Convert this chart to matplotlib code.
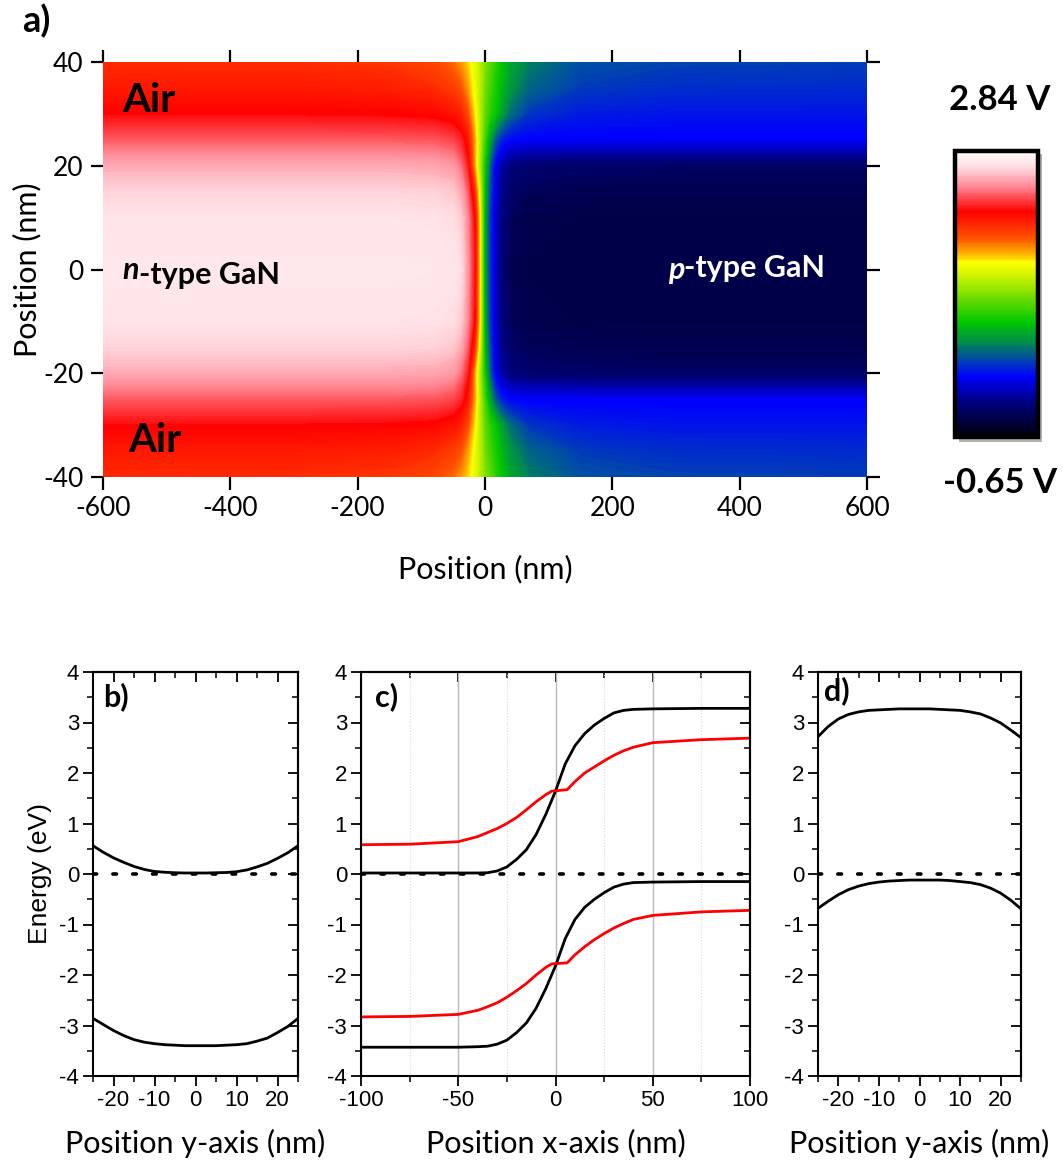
import numpy as np
import matplotlib
matplotlib.use('Agg')
import matplotlib.pyplot as plt
from matplotlib.colors import LinearSegmentedColormap
from matplotlib.ticker import MultipleLocator
from matplotlib.patches import Rectangle

plt.rcParams['axes.unicode_minus'] = False

W, H = 1063, 1167
CAL = ['Lato', 'DejaVu Sans']
ARI = ['Liberation Sans', 'DejaVu Sans']

# ---------------- panel a: potential map (V)
vmin, vmax = -0.65, 2.84
map_x = [-600, -300, -150, -80, -50, -38, -27, -16, -8, 0, 8, 16, 25, 40, 70, 150, 300, 600]
map_y_half = [0, 10, 15, 20, 25, 30, 35, 40]
pot_y0  = [2.72, 2.72, 2.72, 2.71, 2.69, 2.66, 2.45, 2.11, 1.48, 0.60, 0.20, -0.05, -0.25, -0.38, -0.42, -0.43, -0.43, -0.43]
pot_y10 = [2.68, 2.68, 2.68, 2.67, 2.65, 2.60, 2.40, 2.08, 1.46, 0.62, 0.22, -0.03, -0.22, -0.35, -0.40, -0.42, -0.42, -0.42]
pot_y15 = [2.62, 2.62, 2.62, 2.61, 2.58, 2.50, 2.30, 1.90, 1.35, 0.68, 0.28, 0.00, -0.18, -0.31, -0.36, -0.38, -0.39, -0.39]
pot_y20 = [2.50, 2.50, 2.50, 2.49, 2.45, 2.35, 2.15, 1.60, 1.20, 0.75, 0.35, 0.05, -0.12, -0.25, -0.30, -0.32, -0.33, -0.33]
pot_y25 = [2.30, 2.30, 2.30, 2.29, 2.25, 2.18, 2.02, 1.60, 1.25, 0.90, 0.60, 0.35, 0.18, 0.09, 0.07, 0.07, 0.07, 0.07]
pot_y30 = [2.11, 2.11, 2.10, 2.08, 2.03, 1.97, 1.80, 1.50, 1.25, 1.00, 0.85, 0.75, 0.60, 0.40, 0.24, 0.16, 0.14, 0.14]
pot_y35 = [2.00, 2.00, 1.98, 1.93, 1.85, 1.78, 1.62, 1.42, 1.25, 1.05, 0.92, 0.82, 0.70, 0.54, 0.38, 0.26, 0.22, 0.21]
pot_y40 = [1.93, 1.92, 1.89, 1.82, 1.72, 1.64, 1.53, 1.40, 1.25, 1.10, 0.98, 0.87, 0.75, 0.60, 0.46, 0.31, 0.28, 0.27]

# colour bar stops (fraction from bottom, rgb)
cbar_pos = [0.0, 0.12, 0.21, 0.27, 0.33, 0.40, 0.48, 0.55, 0.61, 0.65, 0.70, 0.79, 0.88, 0.95, 1.0]
cbar_rgb = [(0, 0, 0.04), (0, 0, 0.5), (0, 0, 1), (0, 0.28, 0.67), (0, 0.55, 0.3), (0, 0.78, 0),
            (0.4, 0.86, 0), (0.75, 0.94, 0), (1, 1, 0), (1, 0.63, 0), (1, 0.3, 0), (1, 0, 0),
            (1, 0.55, 0.6), (1, 0.88, 0.9), (1, 0.98, 0.98)]

# ---------------- panels b, d: bands across y (eV)
yb = [-25, -22.5, -20, -17.5, -15, -12.5, -10, -7.5, -5, -2.5, 0, 2.5, 5, 7.5, 10, 12.5, 15, 17.5, 20, 22.5, 25]
b_cb = [0.56, 0.43, 0.32, 0.23, 0.15, 0.09, 0.05, 0.035, 0.025, 0.02, 0.02, 0.02, 0.025, 0.03, 0.045, 0.08, 0.14, 0.21, 0.31, 0.42, 0.56]
b_vb = [-2.86, -2.98, -3.10, -3.20, -3.28, -3.33, -3.36, -3.38, -3.39, -3.40, -3.40, -3.40, -3.40, -3.39, -3.38, -3.36, -3.31, -3.25, -3.14, -3.02, -2.86]
d_cb = [2.72, 2.92, 3.07, 3.16, 3.21, 3.24, 3.25, 3.26, 3.27, 3.27, 3.27, 3.27, 3.26, 3.25, 3.24, 3.21, 3.17, 3.09, 2.99, 2.85, 2.70]
d_vb = [-0.68, -0.54, -0.41, -0.31, -0.24, -0.19, -0.16, -0.14, -0.13, -0.12, -0.12, -0.12, -0.12, -0.13, -0.15, -0.17, -0.21, -0.28, -0.38, -0.52, -0.69]

# ---------------- panel c: bands across x (eV)
xc = [-100, -75, -50, -40, -35, -30, -25, -20, -15, -10, -5, 0, 5, 10, 15, 20, 25, 30, 35, 40, 50, 75, 100]
c_cb = [0.02, 0.02, 0.02, 0.02, 0.025, 0.06, 0.14, 0.29, 0.48, 0.78, 1.18, 1.64, 2.18, 2.54, 2.78, 2.95, 3.08, 3.19, 3.24, 3.26, 3.27, 3.28, 3.28]
c_vb = [-3.43, -3.43, -3.43, -3.42, -3.41, -3.37, -3.29, -3.14, -2.95, -2.66, -2.27, -1.82, -1.28, -0.90, -0.66, -0.50, -0.37, -0.26, -0.20, -0.17, -0.16, -0.15, -0.15]
xc_red = [-100, -75, -50, -40, -35, -30, -25, -20, -15, -10, -5, -2, 6, 10, 15, 20, 25, 30, 35, 40, 50, 75, 100]
c_cb_red = [0.58, 0.59, 0.64, 0.74, 0.82, 0.90, 1.00, 1.12, 1.27, 1.43, 1.57, 1.64, 1.67, 1.83, 2.00, 2.12, 2.24, 2.35, 2.44, 2.51, 2.60, 2.66, 2.69]
c_vb_red = [-2.83, -2.82, -2.78, -2.70, -2.63, -2.55, -2.44, -2.31, -2.17, -2.00, -1.85, -1.78, -1.76, -1.60, -1.44, -1.30, -1.18, -1.07, -0.98, -0.90, -0.82, -0.75, -0.72]


def box(x0, y0, x1, y1):
    # pixel box (top-left origin) -> figure fraction rect
    return [x0 / W, 1 - y1 / H, (x1 - x0) / W, (y1 - y0) / H]


fig = plt.figure(figsize=(W / 100, H / 100), dpi=100)

# ================= panel a
cmap = LinearSegmentedColormap.from_list('gan', list(zip(cbar_pos, cbar_rgb)))
rows = [pot_y0, pot_y10, pot_y15, pot_y20, pot_y25, pot_y30, pot_y35, pot_y40]
Z = np.array(rows[:0:-1] + rows)
Yn = [-v for v in map_y_half[:0:-1]] + map_y_half

axa = fig.add_axes(box(103, 62, 867, 477))
cs = axa.contourf(map_x, Yn, Z, levels=np.linspace(vmin, vmax, 240),
                  cmap=cmap, vmin=vmin, vmax=vmax, antialiased=False)
axa.set_xlim(-600, 600)
axa.set_ylim(-40, 40)
for s in axa.spines.values():
    s.set_visible(False)
axa.set_xticks([-600, -400, -200, 0, 200, 400, 600])
axa.set_yticks([-40, -20, 0, 20, 40])
axa.tick_params(direction='out', length=9, width=1.6, top=True, right=True, pad=5)
for lab in axa.get_xticklabels() + axa.get_yticklabels():
    lab.set_family(CAL)
    lab.set_fontsize(19)
axa.set_xlabel('Position (nm)', family=CAL, fontsize=22, labelpad=24)
axa.set_ylabel('Position (nm)', family=CAL, fontsize=22, labelpad=1)

axa.text(-570, 32.5, 'Air', family=CAL, fontsize=29, fontweight='bold', va='center')
axa.text(-560, -33, 'Air', family=CAL, fontsize=29, fontweight='bold', va='center')
t_n = axa.text(-570, -1.8, 'n', family=CAL, fontsize=22, fontweight='bold', style='italic', va='baseline')
axa.annotate('-type GaN', xy=(1, 0), xycoords=t_n, family=CAL, fontsize=22, fontweight='bold', va='baseline')
t_p = axa.text(287, -1.8, 'p', family=CAL, fontsize=22, fontweight='bold', style='italic', va='baseline', color='white')
axa.annotate('-type GaN', xy=(1, 0.24), xycoords=t_p, family=CAL, fontsize=22, fontweight='bold', va='baseline', color='white')

fig.text(22 / W, 1 - 21 / H, 'a)', family=CAL, fontsize=26, fontweight='bold', va='center')

# colour bar
shadow = Rectangle((959 / W, 1 - 442 / H), 83 / W, 288 / H, transform=fig.transFigure,
                   facecolor='0.7', edgecolor='none', zorder=-5)
fig.patches.append(shadow)
cax = fig.add_axes(box(955, 151, 1038, 437))
cax.set_zorder(5)
cb = fig.colorbar(cs, cax=cax, ticks=[])
cb.outline.set_linewidth(3.2)
cb.outline.set_edgecolor('black')
fig.text(1000 / W, 1 - 100 / H, '%.2f V' % vmax, family=CAL, fontsize=25, fontweight='bold', ha='center', va='center')
fig.text(1000 / W, 1 - 483 / H, '%.2f V' % vmin, family=CAL, fontsize=25, fontweight='bold', ha='center', va='center')

# ================= panels b, c, d
def band_axes(rect, xlim, xmaj, xmin_, label, tag, tagpos):
    ax = fig.add_axes(rect)
    ax.set_xlim(*xlim)
    ax.set_ylim(-4, 4)
    ax.xaxis.set_major_locator(MultipleLocator(xmaj))
    ax.xaxis.set_minor_locator(MultipleLocator(xmin_))
    ax.yaxis.set_major_locator(MultipleLocator(1))
    ax.yaxis.set_minor_locator(MultipleLocator(0.5))
    for s in ax.spines.values():
        s.set_linewidth(1.5)
    ax.tick_params(which='major', direction='out', length=7, width=1.3, labelsize=16, pad=3)
    ax.tick_params(which='minor', direction='out', length=4, width=1.1)
    for lab in ax.get_xticklabels() + ax.get_yticklabels():
        lab.set_family(ARI)
    sx = ax.secondary_xaxis('top')
    sy = ax.secondary_yaxis('right')
    for sa, axis, mj, mn in ((sx, sx.xaxis, xmaj, xmin_), (sy, sy.yaxis, 1, 0.5)):
        axis.set_major_locator(MultipleLocator(mj))
        axis.set_minor_locator(MultipleLocator(mn))
        sa.tick_params(which='major', direction='in', length=7, width=1.3, labelsize=0)
        sa.tick_params(which='minor', direction='in', length=4, width=1.1)
        sa.tick_params(labeltop=False, labelright=False)
        for s in sa.spines.values():
            s.set_linewidth(1.5)
    ax.set_xlabel(label, family=CAL, fontsize=22, labelpad=13)
    ax.axhline(0, color='black', lw=2.6, linestyle=(0, (1, 4.5)), dash_capstyle='round', zorder=2)
    ax.text(tagpos[0], tagpos[1], tag, transform=ax.transAxes, family=CAL, fontsize=22,
            fontweight='bold', va='top')
    return ax


axb = band_axes(box(93, 672, 298, 1076), (-25, 25), 10, 5, 'Position y-axis (nm)', 'b)', (0.05, 0.975))
axb.plot(yb, b_cb, color='black', lw=2)
axb.plot(yb, b_vb, color='black', lw=2)
axb.set_ylabel('Energy (eV)', family=ARI, fontsize=19, labelpad=5)

axc = band_axes(box(361, 672, 750, 1076), (-100, 100), 50, 25, 'Position x-axis (nm)', 'c)', (0.035, 0.975))
axc.xaxis.grid(True, which='major', color='0.72', lw=1)
axc.xaxis.grid(True, which='minor', color='0.85', lw=0.8, linestyle=':')
axc.set_axisbelow(True)
axc.plot(xc, c_cb, color='black', lw=2)
axc.plot(xc, c_vb, color='black', lw=2)
axc.plot(xc_red, c_cb_red, color='#ff0000', lw=2)
axc.plot(xc_red, c_vb_red, color='#ff0000', lw=2)

axd = band_axes(box(818, 672, 1021, 1076), (-25, 25), 10, 5, 'Position y-axis (nm)', 'd)', (0.03, 0.99))
axd.plot(yb, d_cb, color='black', lw=2)
axd.plot(yb, d_vb, color='black', lw=2)

fig.savefig('out.png', dpi=100)
